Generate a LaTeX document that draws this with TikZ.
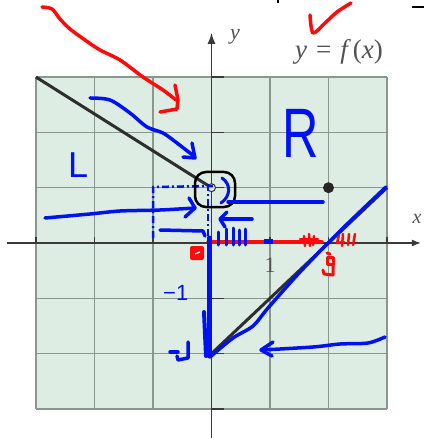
\documentclass[tikz,border=0pt]{standalone}
\usepackage{graphicx}
\usepackage{fontspec}
\setmainfont{Liberation Serif}
\newfontfamily\handfont{Liberation Sans}
\usetikzlibrary{arrows.meta}
\definecolor{gridfill}{HTML}{DDEDE3}
\definecolor{gridgray}{HTML}{8A978F}
\definecolor{axisgray}{HTML}{3A3A3A}
\definecolor{inkblue}{HTML}{0012F2}
\definecolor{inkred}{HTML}{FF0A0A}

\begin{document}
\begin{tikzpicture}[x=1pt,y=-1pt,
  gridline/.style={gridgray,line width=1.2pt},
  axis/.style={axisgray,line width=1.4pt},
  graphline/.style={black!82,line width=3pt},
  lbl/.style={text=black!68,inner sep=0pt},
  blueink/.style={inkblue,line width=3.5pt,line cap=round,line join=round},
  redink/.style={inkred,line width=3.5pt,line cap=round,line join=round},
  hand/.style={text=inkblue,inner sep=0pt,font=\handfont}
]
\useasboundingbox[fill=white] (0,0) rectangle (424,438);

% grid, axes and the graph of f
\begin{scope}[shift={(211.5,243)},x=58.5pt,y=55.3pt]
  \fill[gridfill] (-3,-3) rectangle (3,3);
  \foreach \k in {-3,...,3} {
    \draw[gridline] (\k,-3) -- (\k,3);
    \draw[gridline] (-3,\k) -- (3,\k);
  }
  \draw[axis,-{Latex[length=9pt,width=7pt]}] (-3.5,0) -- (3.58,0);
  \draw[axis,-{Latex[length=11pt,width=8pt]}] (0,-3.55) -- (0,3.8);
  \foreach \k in {-3,...,3} {
    \draw[axis] (0,\k) -- ++(12pt,0);
    \draw[axis] (\k,0) -- ++(0,6pt);
  }
  \draw[graphline] (-3,3) -- (0,1);
  \draw[graphline] (0,-2) -- (3,1);
  \draw[black!80,line width=1pt,fill=gridfill] (0,1) circle[radius=4pt];
  \fill[black!85] (2,1) circle[radius=5.5pt];
\end{scope}

\node[lbl,font=\fontsize{22}{22}\selectfont\itshape] (ylab) at (235,37) {y};
\node[lbl,font=\fontsize{20}{20}\selectfont\itshape] (xlab) at (417,219) {x};
\node[lbl,font=\fontsize{27}{27}\selectfont] (flab) at (339,52) {\textit{y}\hspace{9pt}=\hspace{9pt}\textit{f}\hspace{2pt}(\textit{x})};
\node[lbl,font=\fontsize{22}{22}\selectfont] (one) at (270,265) {1};

% scraps at the top edge
\draw[black,line width=2pt] (278,0) -- (278,3);
\draw[black,line width=2.5pt] (412,7) -- (424,7);

% red ink
\draw[redink] plot[smooth] coordinates {(42,7) (52,9) (60,19) (70,29) (85,40) (100,50) (120,60) (143,77) (163,90) (176,100)};
\draw[redink] (175,85) -- (178,100) -- (177,109) -- (160,112);
\draw[redink] plot[smooth] coordinates {(310,15) (313,33) (325,23) (337,12) (351,3)};
\draw[redink] (208,242) -- (322,242);
\draw[redink,line width=2.5pt] (300,239) -- (318,239);
\draw[redink,line width=2.5pt] (304,236) -- (305,246);
\draw[redink,line width=2.5pt] (309,234) -- (310,246);
\draw[redink,line width=2.5pt] (314,236) -- (313,245);
\draw[redink,line width=2.5pt] (339,235) -- (337,243) -- (344,242);
\draw[redink,line width=2.5pt] (343,234) -- (342,246);
\draw[redink,line width=2.5pt] (349,234) -- (348,245);
\draw[redink,line width=2.5pt] (355,234) -- (353,245);
\fill[inkred,rounded corners=2pt] (190,246) rectangle (204,260);
\draw[white,line width=1.3pt] (195,254) -- (200,252);
\draw[redink,line width=3pt] (327,253) -- (330,254);
\draw[redink,line width=3pt] (327,257) -- (333,257) -- (333,264) -- (327,264) -- cycle;
\draw[redink,line width=3pt] (333,264) -- (333,275) -- (324,274) -- (323,270);

% blue ink
\draw[blueink] plot[smooth] coordinates {(90,98) (110,100) (130,113) (147,127) (163,133) (177,143) (195,157)};
\draw[blueink] (192,143) -- (195,158) -- (183,157);
\node[hand,anchor=base west,font=\handfont\fontsize{36}{36}\selectfont] (lmark) at (68,178) {L};
\node[hand,anchor=base west,font=\handfont\fontsize{70}{70}\selectfont] (rmark) at (282,158) {\scalebox{0.72}[1]{R}};
\draw[blueink,line width=2.5pt,line cap=butt,dash pattern=on 7pt off 3pt on 2pt off 3pt] (153,238) -- (153,187) -- (213,186);
\draw[blueink,line width=2.5pt,line cap=butt,dash pattern=on 7pt off 3pt on 2pt off 3pt] (208,184) -- (208,240);
\draw[black,line width=2.5pt,rounded corners=11pt] (195,172) rectangle (235,207);
\draw[blueink,line width=3pt] (222,178) .. controls (231,184) and (231,196) .. (221,203);
\draw[blueink] plot[smooth] coordinates {(45,218) (90,214) (120,211) (160,210) (195,208)};
\draw[blueink] (189,198) -- (195,208) -- (185,217);
\draw[blueink] (228,202) -- (323,202);
\draw[blueink] (252,219) -- (221,219);
\draw[blueink] (227,212) -- (220,219) -- (225,227);
\draw[blueink] (160,230) -- (203,231) -- (205,236);
\foreach \hx/\ht in {218/232, 226/229, 233/228, 239/230, 245/229}
  \draw[blueink,line width=3pt] (\hx,\ht) -- (\hx,245);
\draw[blueink,line width=5pt,line cap=butt] (264,241) -- (273,241);
\draw[blueink,line width=5pt] (209,238) -- (209,356);
\draw[blueink,line width=4pt] (204,312) -- (206,356);
\draw[blueink] plot[smooth] coordinates {(210,357) (233,338) (253,326) (268,308) (300,272) (340,231) (386,187)};
\node[hand,anchor=base west,font=\handfont\fontsize{22}{22}\selectfont] (mone) at (163,300) {−1};
\draw[blueink] (170,352) -- (178,352);
\draw[blueink] (188,342) -- (188,358) -- (178,360) -- (177,356);
\draw[blueink] plot[smooth] coordinates {(385,337) (368,343) (340,344) (313,347) (262,350)};
\draw[blueink] (273,342) -- (261,350) -- (272,356);
\end{tikzpicture}
\end{document}
